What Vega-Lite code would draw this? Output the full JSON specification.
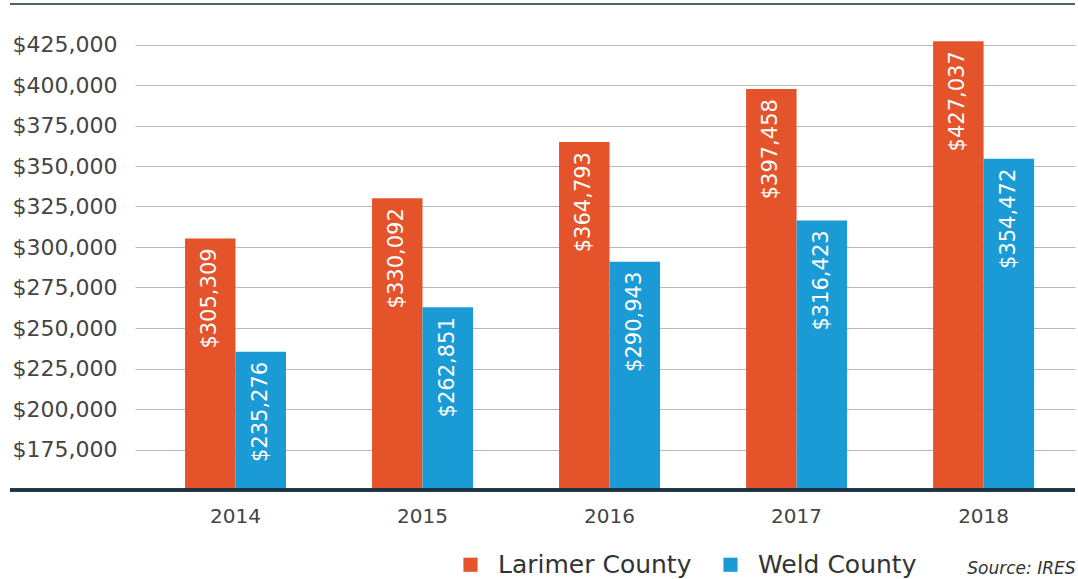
{
  "$schema": "https://vega.github.io/schema/vega-lite/v6.json",
  "padding": {"left": 8, "top": 3, "right": 5, "bottom": 0},
  "background": "white",
  "bounds": "flush",
  "config": {"view": {"stroke": null}, "font": "DejaVu Sans", "concat": {"spacing": 0}},
  "spacing": 0,
  "datasets": {
    "prices": [
      {"year": "2014", "county": "Larimer County", "price": 305309},
      {"year": "2014", "county": "Weld County", "price": 235276},
      {"year": "2015", "county": "Larimer County", "price": 330092},
      {"year": "2015", "county": "Weld County", "price": 262851},
      {"year": "2016", "county": "Larimer County", "price": 364793},
      {"year": "2016", "county": "Weld County", "price": 290943},
      {"year": "2017", "county": "Larimer County", "price": 397458},
      {"year": "2017", "county": "Weld County", "price": 316423},
      {"year": "2018", "county": "Larimer County", "price": 427037},
      {"year": "2018", "county": "Weld County", "price": 354472}
    ]
  },
  "hconcat": [
    {
      "width": 125,
      "height": 486,
      "data": {"name": "prices"},
      "layer": [
        {
          "mark": {"type": "rule", "color": "#506170", "strokeWidth": 2},
          "encoding": {
            "y": {"datum": 450000, "type": "quantitative",
              "scale": {"domain": [150000, 450000], "nice": false, "zero": false},
              "axis": {
                "values": [175000, 200000, 225000, 250000, 275000, 300000, 325000, 350000, 375000, 400000, 425000],
                "format": "$,.0f",
                "labelAlign": "left",
                "labelPadding": -2,
                "ticks": false,
                "domain": false,
                "grid": false,
                "title": null,
                "labelFontSize": 22,
                "labelColor": "#444444",
                "labelBaseline": "middle",
                "minExtent": 0
              }
            }
          }
        },
        {
          "mark": {"type": "rule", "color": "#1c3245", "strokeWidth": 2.5},
          "encoding": {"y": {"datum": 150000, "type": "quantitative"}}
        }
      ]
    },
    {
      "width": 940,
      "height": 486,
      "data": {"name": "prices"},
      "layer": [
        {
          "mark": {"type": "bar"},
          "encoding": {
            "x": {"field": "year", "type": "nominal",
              "scale": {"paddingInner": 0.46, "paddingOuter": 0.243, "align": 0.55},
              "axis": {"title": "Source: IRES", "titleAnchor": "end", "titleAlign": "right", "titleX": 940, "titleFontStyle": "italic", "titleFontWeight": "normal", "titleFontSize": 17, "titleColor": "#333333", "titlePadding": 34,
                "labelAngle": 0, "ticks": false, "domain": false, "labelFontSize": 20, "labelColor": "#444444", "labelPadding": 16, "zindex": 1}
            },
            "xOffset": {"field": "county", "type": "nominal", "scale": {"paddingInner": 0, "paddingOuter": 0}},
            "y": {"field": "price", "type": "quantitative",
              "scale": {"domain": [150000, 450000], "nice": false, "zero": false},
              "axis": {
                "values": [175000, 200000, 225000, 250000, 275000, 300000, 325000, 350000, 375000, 400000, 425000],
                "labels": false, "ticks": false, "domain": false, "grid": true,
                "gridColor": "#b8b8b8", "gridWidth": 1, "title": null,
                "minExtent": 0, "maxExtent": 0, "labelPadding": 0
              }
            },
            "y2": {"datum": 150000},
            "color": {"field": "county", "type": "nominal",
              "scale": {"domain": ["Larimer County", "Weld County"], "range": ["#E5532A", "#1A9BD6"]},
              "legend": {
                "title": null,
                "orient": "none",
                "direction": "horizontal",
                "legendX": 448,
                "legendY": 548,
                "symbolType": "square",
                "symbolSize": 200,
                "symbolStrokeWidth": 0,
                "labelFontSize": 25,
                "labelColor": "#333333",
                "labelOffset": 15,
                "labelLimit": 400,
                "columnPadding": 26
              }
            }
          }
        },
        {
          "mark": {"type": "text", "angle": 270, "align": "right", "baseline": "middle", "dx": -10, "color": "white", "fontSize": 21},
          "encoding": {
            "x": {"field": "year", "type": "nominal"},
            "xOffset": {"field": "county", "type": "nominal"},
            "y": {"field": "price", "type": "quantitative"},
            "text": {"field": "price", "type": "quantitative", "format": "$,.0f"}
          }
        },
        {
          "mark": {"type": "rule", "color": "#506170", "strokeWidth": 2},
          "encoding": {"y": {"datum": 450000, "type": "quantitative"}}
        },
        {
          "mark": {"type": "rule", "color": "#1c3245", "strokeWidth": 2.5},
          "encoding": {"y": {"datum": 150000, "type": "quantitative"}}
        }
      ]
    }
  ]
}
